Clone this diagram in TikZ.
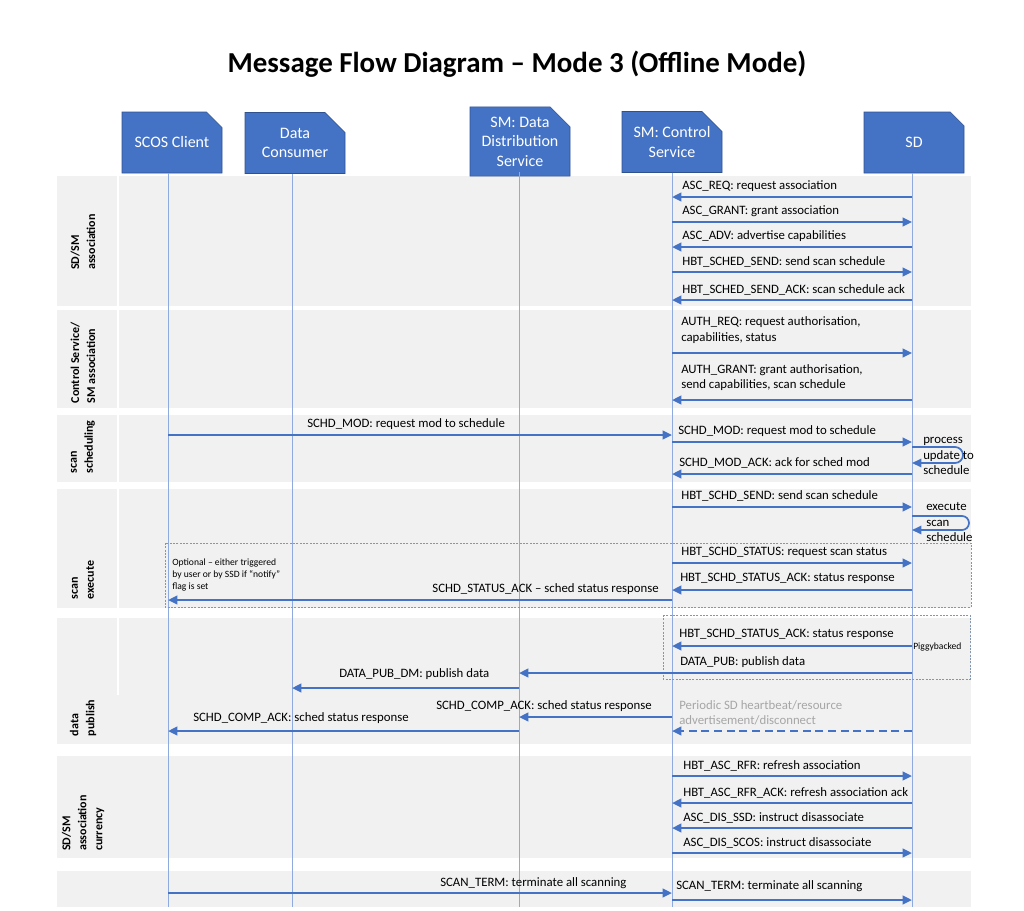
\documentclass[tikz,border=0pt]{standalone}
\usepackage{fontspec}
\setmainfont{Carlito}
\usetikzlibrary{arrows.meta,shapes.misc}
\definecolor{msgblue}{RGB}{68,114,196}
\definecolor{lifeblue}{RGB}{143,170,220}
\definecolor{bandgray}{RGB}{241,241,241}
\definecolor{boxedge}{RGB}{47,82,143}
\definecolor{dashgray}{RGB}{132,151,176}
\definecolor{notegray}{RGB}{166,166,166}
\tikzset{>={Triangle[length=7pt,width=6.3pt]},
  actor/.style={chamfered rectangle, chamfered rectangle corners=north east,
    chamfered rectangle xsep=7.5pt, chamfered rectangle ysep=7.5pt,
    minimum width=75pt, minimum height=45.75pt, inner sep=0pt,
    fill=msgblue, draw=boxedge, line width=0.4pt, text=white, align=center,
    font=\fontsize{12}{14.6}\selectfont},
  band/.style={fill=bandgray},
  life/.style={draw=lifeblue, line width=0.7pt},
  msg/.style={->, draw=msgblue, line width=1.8pt},
  loopmsg/.style={->, draw=msgblue, line width=1.3pt},
  lbl/.style={inner sep=0pt, anchor=west, font=\fontsize{9.6}{11.4}\selectfont},
  small/.style={inner sep=0pt, anchor=west, align=left, font=\fontsize{7.2}{9}\selectfont},
  side/.style={rotate=90, align=left, inner sep=0pt, font=\bfseries\fontsize{9}{12}\selectfont},
  optbox/.style={draw=dashgray, line width=0.6pt, dash pattern=on 1.5pt off 1pt}}

\begin{document}
\begin{tikzpicture}[x=0.75pt,y=-0.75pt]
    \useasboundingbox (0,0) rectangle (1024,910);
    % bands
    \foreach \ya/\yb in {176/306,310/408,415/482,489/608,618/744,756/858,871/907}
        \fill[band] (57,\ya) rectangle (971,\yb);
    \foreach \ya/\yb in {176/306,310/408,415/482,489/608,618/695}
        \fill[white] (116.5,\ya) rectangle (119,\yb);
    \node[font=\bfseries\fontsize{21.7}{26}\selectfont] (title) at (517,64) {Message Flow Diagram -- Mode 3 (Offline Mode)};
    % actors
    \node[actor] (scos) at (172,142.5) {SCOS Client};
    \node[actor] (dc) at (295,143) {Data\\Consumer};
    \node[actor] (dds) at (520,141.5) {SM: Data\\Distribution\\Service};
    \node[actor] (cs) at (672,142) {SM: Control\\Service};
    \node[actor] (sd) at (914,142.5) {SD};
    \coordinate (lscos) at (168,173);
    \coordinate (ldc) at (292,173.5);
    \coordinate (ldds) at (519,172);
    \coordinate (lcs) at (672,172.5);
    \coordinate (lsd) at (912,173);
    \coordinate (bot) at (0,907);
    \foreach \l in {lscos,ldc,ldds,lcs,lsd}
        \draw[life] (\l) -- (\l |- bot);
    \draw[optbox] (165,543) rectangle (971,607);
    \draw[optbox] (663,615) rectangle (970,679);
    % side labels
    \node[side] (sdsm) at (83,242) {SD/SM\\association};
    \node[side] (ctrl) at (83,363) {Control Service/\\SM association};
    \node[side] (sched) at (83,447) {scan\\scheduling};
    \node[side] (exec) at (83,580) {scan\\execute};
    \node[side] (pub) at (83,718) {data\\publish};
    \node[side] (curr) at (83,823) {SD/SM\\association\\currency};
    % SD/SM association
    \foreach \f/\t/\y/\txt [count=\i] in {lsd/lcs/197/{ASC\_REQ: request association},
        lcs/lsd/222/{ASC\_GRANT: grant association},
        lsd/lcs/247/{ASC\_ADV: advertise capabilities},
        lcs/lsd/272/{HBT\_SCHED\_SEND: send scan schedule},
        lsd/lcs/300/{HBT\_SCHED\_SEND\_ACK: scan schedule ack}}{
        \draw[msg] (\f |- 0,\y) -- (\t |- 0,\y);
        \node[lbl] (asc\i) at (682,\y-10.5) {\txt};
    }
    % Control Service/SM association
    \draw[msg] (lcs |- 0,353) -- (lsd |- 0,353);
    \node[lbl, align=left] (authreq) at (681,330) {AUTH\_REQ: request authorisation,\\capabilities, status};
    \draw[msg] (lsd |- 0,400) -- (lcs |- 0,400);
    \node[lbl, align=left] (authgrant) at (681,377.5) {AUTH\_GRANT: grant authorisation,\\send capabilities, scan schedule};
    % scan scheduling
    \draw[msg] (lscos |- 0,435) -- (lcs |- 0,435);
    \node[lbl] (schdmodc) at (307,424) {SCHD\_MOD: request mod to schedule};
    \draw[msg] (lcs |- 0,442) -- (lsd |- 0,442);
    \node[lbl] (schdmods) at (678,431) {SCHD\_MOD: request mod to schedule};
    \draw[loopmsg] (lsd |- 0,447) -- (955,447) arc[start angle=-90, end angle=90, radius=8] -- (lsd |- 0,463);
    \node[lbl, align=left] (process) at (923,456) {process\\update to\\schedule};
    \draw[msg] (lsd |- 0,474) -- (lcs |- 0,474);
    \node[lbl] (schdmodack) at (679,463) {SCHD\_MOD\_ACK: ack for sched mod};
    % scan execute
    \draw[msg] (lcs |- 0,507) -- (lsd |- 0,507);
    \node[lbl] (hbtsend) at (681,496) {HBT\_SCHD\_SEND: send scan schedule};
    \draw[loopmsg] (lsd |- 0,516) -- (962,516) arc[start angle=-90, end angle=90, radius=7] -- (lsd |- 0,530);
    \node[lbl, align=left] (execute) at (926,522) {execute\\scan\\schedule};
    \draw[msg] (lcs |- 0,563) -- (lsd |- 0,563);
    \node[lbl] (hbtstatus) at (681,552) {HBT\_SCHD\_STATUS: request scan status};
    \draw[msg] (lsd |- 0,590) -- (lcs |- 0,590);
    \node[lbl] (hbtstatusack) at (680,578) {HBT\_SCHD\_STATUS\_ACK: status response};
    \draw[msg] (lcs |- 0,600) -- (lscos |- 0,600);
    \node[lbl, anchor=east] (schdstatusack) at (659,589) {SCHD\_STATUS\_ACK -- sched status response};
    \node[small] (optional) at (172,575) {Optional -- either triggered\\by user or by SSD if “notify”\\flag is set};
    % data publish
    \draw[msg] (lsd |- 0,646) -- (lcs |- 0,646);
    \node[lbl] (pigack) at (679,634) {HBT\_SCHD\_STATUS\_ACK: status response};
    \node[small] (piggy) at (913,647) {Piggybacked};
    \draw[msg] (lsd |- 0,673) -- (ldds |- 0,673);
    \node[lbl] (datapub) at (680,662) {DATA\_PUB: publish data};
    \draw[msg] (ldds |- 0,688) -- (ldc |- 0,688);
    \node[lbl] (datapubdm) at (339,674) {DATA\_PUB\_DM: publish data};
    \draw[msg] (lcs |- 0,717) -- (ldds |- 0,717);
    \node[lbl, anchor=east] (compackd) at (652,706) {SCHD\_COMP\_ACK: sched status response};
    \draw[msg] (ldds |- 0,731) -- (lscos |- 0,731);
    \node[lbl] (compackc) at (193,718) {SCHD\_COMP\_ACK: sched status response};
    \node[lbl, align=left, text=notegray] (periodic) at (679,712.5) {Periodic SD heartbeat/resource\\advertisement/disconnect};
    \draw[msg, dash pattern=on 6pt off 3.5pt] (lsd |- 0,731) -- (lcs |- 0,731);
    % SD/SM association currency
    \foreach \f/\t/\y/\txt [count=\i] in {lcs/lsd/776/{HBT\_ASC\_RFR: refresh association},
        lsd/lcs/803/{HBT\_ASC\_RFR\_ACK: refresh association ack},
        lsd/lcs/828/{ASC\_DIS\_SSD: instruct disassociate},
        lcs/lsd/853/{ASC\_DIS\_SCOS: instruct disassociate}}{
        \draw[msg] (\f |- 0,\y) -- (\t |- 0,\y);
        \node[lbl] (cur\i) at (683,\y-10) {\txt};
    }
    % scan termination
    \draw[msg] (lscos |- 0,893) -- (lcs |- 0,893);
    \node[lbl] (termc) at (440,883) {SCAN\_TERM: terminate all scanning};
    \draw[msg] (lcs |- 0,900) -- (lsd |- 0,900);
    \node[lbl] (terms) at (676,886) {SCAN\_TERM: terminate all scanning};
\end{tikzpicture}
\end{document}
